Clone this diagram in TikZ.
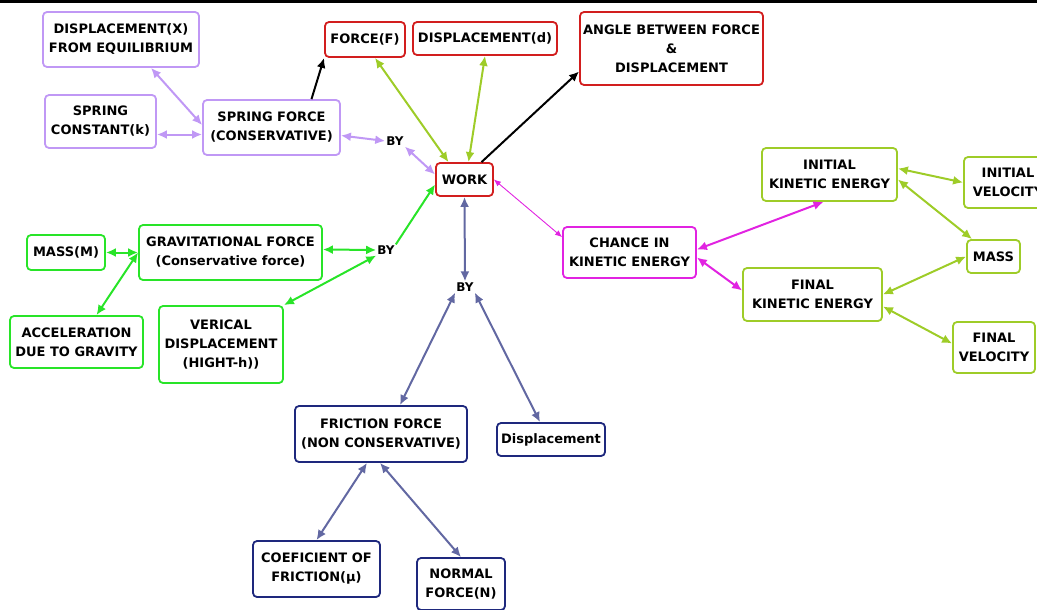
\documentclass[tikz,border=0pt]{standalone}
\usepackage{fontspec}
\setmainfont{DejaVu Sans}
\usetikzlibrary{arrows,arrows.meta}

\definecolor{lav}{RGB}{192,152,245}
\definecolor{wred}{RGB}{210,30,30}
\definecolor{lime}{RGB}{158,204,40}
\definecolor{grav}{RGB}{40,228,40}
\definecolor{mag}{RGB}{225,35,225}
\definecolor{navy}{RGB}{30,40,125}
\definecolor{slate}{RGB}{98,104,162}

\begin{document}
\begin{tikzpicture}[x=1pt,y=-1pt,
  box/.style={draw, rounded corners=4pt, line width=1.8pt, fill=white, align=center, inner sep=2pt, font=\bfseries\fontsize{13}{19}\selectfont},
  sbox/.style={box, draw=lav},
  wbox/.style={box, draw=wred},
  gbox/.style={box, draw=grav},
  kbox/.style={box, draw=lime},
  fbox/.style={box, draw=navy},
  by/.style={font=\bfseries\fontsize{12}{14}\selectfont, inner sep=1pt},
  tip/.style={-{Latex[length=10pt,width=9pt]}, line width=2pt},
  link/.style={{Latex[length=10pt,width=9pt]}-{Latex[length=10pt,width=9pt]}, line width=2pt}]
\useasboundingbox (0,0) rectangle (1037,610);
\clip (0,0) rectangle (1037,610);
\fill[black] (0,0) rectangle (1037,3); % top rule

% central node and its factors
\node[wbox, minimum width=57pt, minimum height=33pt] (work) at (464.5,179.5) {WORK};
\node[wbox, minimum width=80pt, minimum height=35pt] (force) at (365,39.5) {FORCE(F)};
\node[wbox, minimum width=144pt, minimum height=33pt] (dispd) at (485,38.5) {DISPLACEMENT(d)};
\node[wbox, minimum width=183pt, minimum height=73pt] (angle) at (671.5,48.5) {ANGLE BETWEEN FORCE\\\&\\DISPLACEMENT};

% spring force
\node[sbox, minimum width=156pt, minimum height=55pt] (dispX) at (121,39.5) {DISPLACEMENT(X)\\FROM EQUILIBRIUM};
\node[sbox, minimum width=111pt, minimum height=53pt] (springK) at (100.5,121.5) {SPRING\\CONSTANT(k)};
\node[sbox, minimum width=137pt, minimum height=55pt] (springF) at (271.5,127.5) {SPRING FORCE\\(CONSERVATIVE)};
\node[by] (by1) at (395,141) {BY};

% gravitational force
\node[gbox, minimum width=78pt, minimum height=35pt] (massM) at (66,252.5) {MASS(M)};
\node[gbox, minimum width=183pt, minimum height=55pt] (gravF) at (230.5,252.5) {GRAVITATIONAL FORCE\\(Conservative force)};
\node[gbox, minimum width=133pt, minimum height=52pt] (accel) at (76.5,342) {ACCELERATION\\DUE TO GRAVITY};
\node[gbox, minimum width=124pt, minimum height=77pt] (vert) at (221,344.5) {VERICAL\\DISPLACEMENT\\(HIGHT-h))};
\node[by] (by2) at (386,250) {BY};

% friction force
\node[by] (by3) at (465,287) {BY};
\node[fbox, minimum width=172pt, minimum height=56pt] (friction) at (381,434) {FRICTION FORCE\\(NON CONSERVATIVE)};
\node[fbox, minimum width=108pt, minimum height=33pt] (dispSmall) at (551,439.5) {Displacement};
\node[fbox, minimum width=127pt, minimum height=56pt] (coef) at (316.5,569) {COEFICIENT OF\\FRICTION(μ)};
\node[fbox, minimum width=88pt, minimum height=52pt] (normal) at (461,584) {NORMAL\\FORCE(N)};

% kinetic energy
\node[box, draw=mag, minimum width=133pt, minimum height=51pt] (chance) at (629.5,252.5) {CHANCE IN\\KINETIC ENERGY};
\node[kbox, minimum width=135pt, minimum height=53pt] (initKE) at (829.5,174.5) {INITIAL\\KINETIC ENERGY};
\node[kbox, minimum width=139pt, minimum height=53pt] (finalKE) at (812.5,294.5) {FINAL\\KINETIC ENERGY};
\node[kbox, minimum width=88pt, minimum height=51pt] (initV) at (1008,182.5) {INITIAL\\VELOCITY};
\node[kbox, minimum width=53pt, minimum height=33pt] (mass) at (993.5,256.5) {MASS};
\node[kbox, minimum width=82pt, minimum height=51pt] (finalV) at (994,347.5) {FINAL\\VELOCITY};

% spring branch
\draw[link, lav] ([xshift=30pt]dispX.south) -- ([yshift=2.5pt]springF.west);
\draw[link, lav] ([yshift=-13pt]springK.east) -- ([yshift=-13pt]springK.east -| springF.west);
\draw[link, lav] ([yshift=-8pt]springF.east) -- (by1.west);
\draw[link, lav] (by1.south east) -- ([yshift=5pt]work.west);
\draw[tip] ([xshift=40pt]springF.north) -- (force.south west);

% what work depends on
\draw[link, lime] ([xshift=10pt]force.south) -- ([xshift=-16pt]work.north);
\draw[link, lime] (dispd.south) -- ([xshift=4pt]work.north);
\draw[tip] ([xshift=17pt]work.north) -- ([yshift=-23pt]angle.west);

% gravity branch
\draw[link, grav] (massM.east) -- (gravF.west);
\draw[link, grav] (gravF.west) -- ([xshift=20pt]accel.north);
\draw[link, grav] ([yshift=3pt]gravF.east) -- (by2.west);
\draw[link, grav] (vert.north east) -- (by2.south west);
\draw[tip, grav] (by2.north east) -- ([yshift=-5pt]work.west);

% friction branch
\draw[link, slate] (work.south) -- (by3.north);
\draw[link, slate] (by3.south west) -- ([xshift=19pt]friction.north);
\draw[link, slate] (by3.south east) -- ([xshift=-11pt]dispSmall.north);
\draw[link, slate] ([xshift=-14pt]friction.south) -- (coef.north);
\draw[link, slate] ([xshift=-1pt]friction.south) -- (normal.north);

% kinetic energy branch
\draw[{Latex[length=7pt,width=6pt]}-{Latex[length=7pt,width=6pt]}, mag, line width=0.9pt] (work.east) -- ([yshift=-11pt]chance.north west);
\draw[link, mag] ([yshift=3pt]chance.east) -- ([xshift=-6pt]initKE.south);
\draw[link, mag] ([yshift=-5pt]chance.east) -- ([yshift=4pt]finalKE.west);
\draw[link, lime] ([yshift=6pt]initKE.east) -- (initV.west);
\draw[link, lime] ([yshift=-5pt]initKE.east) -- ([xshift=6pt]mass.north west);
\draw[link, lime] (finalKE.east) -- (mass.west);
\draw[link, lime] ([yshift=-12pt]finalKE.east) -- ([yshift=4pt]finalV.west);
\end{tikzpicture}
\end{document}
